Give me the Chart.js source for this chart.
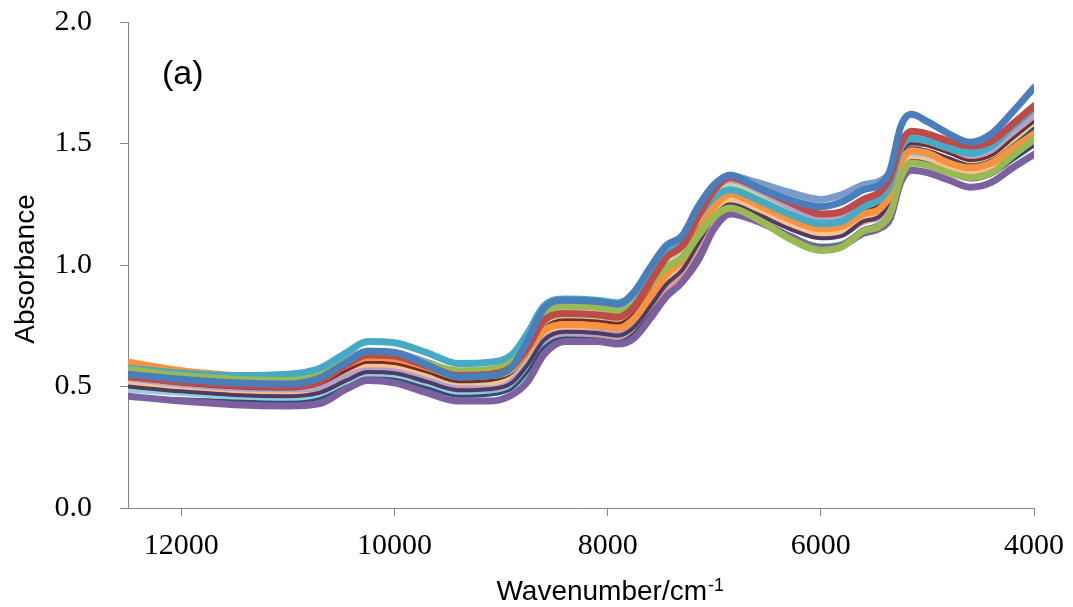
<!DOCTYPE html>
<html>
<head>
<meta charset="utf-8">
<title>NIR spectra (a)</title>
<script src="https://cdn.jsdelivr.net/npm/chart.js@4.4.0/dist/chart.umd.min.js"></script>
<style>
  html, body { margin: 0; padding: 0; background: #fff; }
  #wrap { width: 1073px; height: 607px; position: relative; }
</style>
</head>
<body>
<div id="wrap"><canvas id="spectraChart"></canvas></div>
<script>
'use strict';

const wavenumbers = [12500, 12000, 11500, 11000, 10700, 10450, 10250, 10000, 9700, 9400,
  9100, 8900, 8750, 8600, 8400, 8100, 7900, 7750, 7600, 7450,
  7300, 7150, 7000, 6850, 6600, 6300, 6000, 5800, 5600, 5450,
  5350, 5250, 5150, 5000, 4800, 4600, 4400, 4200, 4000];

const sample01 = [0.55, 0.53, 0.515, 0.51, 0.535, 0.60, 0.645, 0.64, 0.59, 0.54, 0.545, 0.58, 0.69, 0.82, 0.855, 0.85, 0.84, 0.89, 0.99, 1.08, 1.12, 1.24, 1.33, 1.37, 1.32, 1.27, 1.24, 1.26, 1.31, 1.33, 1.39, 1.57, 1.62, 1.59, 1.54, 1.505, 1.54, 1.63, 1.73];
const sample02 = [0.54, 0.52, 0.505, 0.50, 0.52, 0.59, 0.63, 0.625, 0.585, 0.545, 0.55, 0.58, 0.66, 0.77, 0.80, 0.795, 0.785, 0.83, 0.93, 1.03, 1.08, 1.20, 1.31, 1.36, 1.32, 1.26, 1.21, 1.22, 1.27, 1.30, 1.36, 1.50, 1.55, 1.54, 1.51, 1.49, 1.51, 1.58, 1.655];
const sample03 = [0.57, 0.545, 0.53, 0.525, 0.545, 0.60, 0.635, 0.63, 0.595, 0.565, 0.57, 0.60, 0.68, 0.80, 0.83, 0.825, 0.81, 0.84, 0.92, 0.99, 1.03, 1.12, 1.20, 1.235, 1.19, 1.11, 1.06, 1.075, 1.14, 1.16, 1.21, 1.36, 1.42, 1.41, 1.38, 1.36, 1.38, 1.45, 1.52];
const sample04 = [0.46, 0.44, 0.425, 0.42, 0.43, 0.49, 0.525, 0.515, 0.475, 0.44, 0.44, 0.465, 0.52, 0.63, 0.685, 0.685, 0.675, 0.70, 0.78, 0.87, 0.93, 1.02, 1.15, 1.21, 1.18, 1.12, 1.07, 1.08, 1.13, 1.15, 1.19, 1.34, 1.39, 1.38, 1.35, 1.32, 1.34, 1.40, 1.455];
const sample05 = [0.575, 0.555, 0.545, 0.55, 0.575, 0.64, 0.685, 0.68, 0.64, 0.595, 0.60, 0.63, 0.72, 0.83, 0.86, 0.855, 0.845, 0.88, 0.97, 1.05, 1.10, 1.20, 1.28, 1.31, 1.27, 1.21, 1.17, 1.18, 1.24, 1.27, 1.33, 1.48, 1.52, 1.51, 1.48, 1.46, 1.49, 1.57, 1.645];
const sample06 = [0.60, 0.565, 0.545, 0.53, 0.545, 0.59, 0.62, 0.615, 0.58, 0.545, 0.545, 0.57, 0.65, 0.73, 0.755, 0.75, 0.74, 0.78, 0.87, 0.96, 1.02, 1.13, 1.24, 1.29, 1.25, 1.19, 1.15, 1.16, 1.21, 1.23, 1.29, 1.42, 1.47, 1.46, 1.42, 1.40, 1.42, 1.48, 1.54];
const sample07 = [0.455, 0.45, 0.44, 0.435, 0.45, 0.50, 0.535, 0.53, 0.495, 0.46, 0.465, 0.49, 0.56, 0.66, 0.70, 0.695, 0.685, 0.72, 0.80, 0.88, 0.94, 1.04, 1.16, 1.215, 1.18, 1.12, 1.08, 1.09, 1.15, 1.17, 1.22, 1.37, 1.43, 1.42, 1.38, 1.35, 1.37, 1.43, 1.49];
const sample08 = [0.535, 0.51, 0.495, 0.49, 0.51, 0.565, 0.60, 0.595, 0.56, 0.52, 0.525, 0.555, 0.635, 0.74, 0.775, 0.77, 0.76, 0.80, 0.89, 0.98, 1.04, 1.15, 1.25, 1.30, 1.26, 1.20, 1.16, 1.17, 1.22, 1.25, 1.31, 1.45, 1.50, 1.49, 1.46, 1.43, 1.45, 1.52, 1.59];
const sample09 = [0.50, 0.48, 0.465, 0.46, 0.475, 0.525, 0.56, 0.555, 0.52, 0.485, 0.49, 0.515, 0.59, 0.69, 0.725, 0.72, 0.71, 0.745, 0.83, 0.92, 0.98, 1.09, 1.20, 1.25, 1.21, 1.15, 1.11, 1.12, 1.18, 1.20, 1.27, 1.42, 1.48, 1.47, 1.44, 1.41, 1.43, 1.49, 1.56];
const sample10 = [0.565, 0.54, 0.52, 0.51, 0.53, 0.58, 0.61, 0.605, 0.565, 0.525, 0.53, 0.56, 0.64, 0.75, 0.78, 0.775, 0.765, 0.81, 0.90, 0.99, 1.05, 1.17, 1.27, 1.32, 1.28, 1.21, 1.16, 1.17, 1.23, 1.25, 1.31, 1.43, 1.475, 1.465, 1.43, 1.41, 1.43, 1.50, 1.565];
const sample11 = [0.535, 0.51, 0.495, 0.49, 0.495, 0.54, 0.565, 0.56, 0.525, 0.49, 0.49, 0.52, 0.60, 0.69, 0.72, 0.72, 0.71, 0.76, 0.86, 0.97, 1.04, 1.17, 1.30, 1.35, 1.31, 1.24, 1.19, 1.20, 1.26, 1.28, 1.34, 1.49, 1.545, 1.53, 1.48, 1.44, 1.47, 1.54, 1.61];
const sample12 = [0.52, 0.50, 0.485, 0.48, 0.50, 0.55, 0.585, 0.58, 0.545, 0.505, 0.51, 0.54, 0.62, 0.715, 0.74, 0.735, 0.725, 0.765, 0.85, 0.94, 1.00, 1.11, 1.21, 1.26, 1.22, 1.17, 1.13, 1.14, 1.19, 1.21, 1.27, 1.39, 1.435, 1.425, 1.40, 1.38, 1.40, 1.46, 1.52];
const sample13 = [0.505, 0.49, 0.475, 0.47, 0.485, 0.535, 0.57, 0.565, 0.53, 0.495, 0.50, 0.525, 0.60, 0.69, 0.71, 0.71, 0.70, 0.74, 0.82, 0.91, 0.97, 1.08, 1.19, 1.245, 1.21, 1.16, 1.12, 1.13, 1.18, 1.20, 1.25, 1.38, 1.43, 1.42, 1.39, 1.37, 1.39, 1.45, 1.51];
const sample14 = [0.49, 0.475, 0.46, 0.455, 0.47, 0.52, 0.545, 0.54, 0.505, 0.47, 0.475, 0.50, 0.56, 0.66, 0.69, 0.69, 0.68, 0.71, 0.79, 0.87, 0.93, 1.05, 1.18, 1.235, 1.19, 1.12, 1.075, 1.085, 1.14, 1.17, 1.24, 1.40, 1.46, 1.455, 1.43, 1.41, 1.44, 1.51, 1.58];
const sample15 = [0.545, 0.53, 0.52, 0.52, 0.545, 0.61, 0.645, 0.64, 0.60, 0.56, 0.565, 0.60, 0.70, 0.82, 0.85, 0.845, 0.835, 0.88, 0.98, 1.07, 1.12, 1.24, 1.33, 1.365, 1.34, 1.30, 1.27, 1.29, 1.33, 1.345, 1.38, 1.47, 1.50, 1.50, 1.48, 1.47, 1.50, 1.55, 1.60];

const samples = [sample01, sample02, sample03, sample04, sample05, sample06, sample07, sample08,
  sample09, sample10, sample11, sample12, sample13, sample14, sample15];
const sampleColors = ['#4A7EBB', '#BE4B48', '#98B954', '#7D60A0', '#46AAC5', '#F69240', '#2C4D75', '#772C2A',
  '#4D3B62', '#C3D69B', '#B3A2C7', '#FAC090', '#D99694', '#93CDDD', '#7A9CCB'];
const sampleWidths = [7, 7, 7, 7, 7, 7, 3, 3, 4, 7, 7, 7, 7, 7, 7];

const xTicks = [12000, 10000, 8000, 6000, 4000];
const yTicks = [0, 0.5, 1.0, 1.5, 2.0];
const xTitle = 'Wavenumber/cm';
const xTitleSup = '-1';
const yTitle = 'Absorbance';
const panelLabel = '(a)';

const AXIS_GREY = '#868686';
const SERIF = '"Liberation Serif", "Times New Roman", serif';
const SANS = '"Liberation Sans", Arial, sans-serif';

// axis titles + panel letter, drawn as canvas text
const titlesPlugin = {
  id: 'titles',
  afterDraw(chart) {
    const ctx = chart.ctx;
    ctx.save();
    ctx.fillStyle = '#000';
    ctx.textBaseline = 'alphabetic';

    ctx.font = '34px ' + SANS;
    ctx.textAlign = 'left';
    ctx.fillText(panelLabel, 162, 84);

    // x title with superscript
    ctx.font = '28px ' + SANS;
    const mainW = ctx.measureText(xTitle).width;
    ctx.font = '18px ' + SANS;
    const supW = ctx.measureText(xTitleSup).width;
    const startX = 723 - mainW - supW;
    ctx.font = '28px ' + SANS;
    ctx.fillText(xTitle, startX, 600);
    ctx.font = '18px ' + SANS;
    ctx.fillText(xTitleSup, startX + mainW + 1, 591);

    // y title
    ctx.translate(34, 269);
    ctx.rotate(-Math.PI / 2);
    ctx.font = '28px ' + SANS;
    ctx.textAlign = 'center';
    ctx.fillText(yTitle, 0, 0);
    ctx.restore();
  }
};

function buildDatasets() {
  return samples.map((values, i) => ({
    label: 'Sample ' + (i + 1),
    data: values.map((v, j) => ({ x: wavenumbers[j], y: v })),
    borderColor: sampleColors[i],
    backgroundColor: sampleColors[i],
    borderWidth: sampleWidths[i],
    pointRadius: 0,
    fill: false,
    cubicInterpolationMode: 'monotone',
    borderCapStyle: 'round',
    borderJoinStyle: 'round'
  }));
}

function renderChart() {
  const ctx = document.getElementById('spectraChart');

  new Chart(ctx, {
    type: 'line',
    data: { datasets: buildDatasets() },
    options: {
      responsive: true,
      maintainAspectRatio: false,
      animation: false,
      layout: { padding: { left: 0, right: 39, top: 22, bottom: 0 } },
      scales: {
        x: {
          type: 'linear',
          reverse: true,
          min: 4000,
          max: 12500,
          afterBuildTicks: axis => { axis.ticks = xTicks.map(v => ({ value: v })); },
          afterFit: scale => {
            scale.height = 99;
            scale.paddingLeft = 0;
            scale.paddingRight = 0;
          },
          grid: { display: true, drawOnChartArea: false, drawTicks: true, tickLength: 8, color: AXIS_GREY, lineWidth: 1 },
          border: { display: true, color: AXIS_GREY, width: 1 },
          ticks: {
            color: '#000',
            padding: 12,
            maxRotation: 0,
            font: { family: SERIF, size: 30 },
            callback: v => String(v)
          }
        },
        y: {
          min: 0,
          max: 2,
          afterBuildTicks: axis => { axis.ticks = yTicks.map(v => ({ value: v })); },
          afterFit: scale => {
            scale.width = 128;
            scale.paddingTop = 0;
            scale.paddingBottom = 0;
          },
          grid: { display: true, drawOnChartArea: false, drawTicks: true, tickLength: 8, color: AXIS_GREY, lineWidth: 1 },
          border: { display: true, color: AXIS_GREY, width: 1 },
          ticks: {
            color: '#000',
            padding: 28,
            font: { family: SERIF, size: 30 },
            callback: v => Number(v).toFixed(1)
          }
        }
      },
      plugins: {
        legend: { display: false },
        tooltip: { enabled: false }
      }
    },
    plugins: [titlesPlugin]
  });
}

document.addEventListener('DOMContentLoaded', renderChart);
</script>
</body>
</html>
